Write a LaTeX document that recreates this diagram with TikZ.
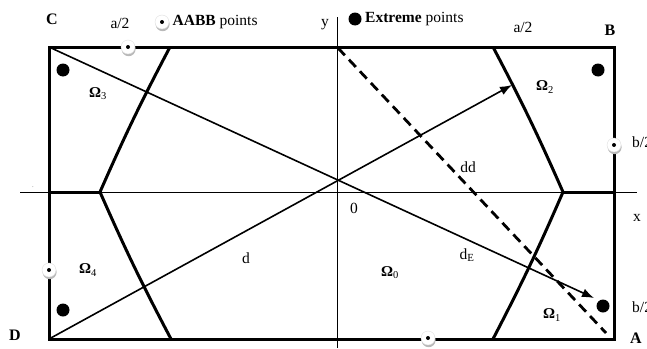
\documentclass[tikz,border=0pt]{standalone}
\usepackage{fontspec}
\setmainfont{Liberation Serif}
\usepackage{tikz}
\usetikzlibrary{positioning,arrows.meta,shadows}

\begin{document}
\begin{tikzpicture}[x=1pt,y=-1pt,
    font=\fontsize{15.5}{18}\selectfont,
    frame/.style={line width=3pt,line join=miter},
    zone/.style={line width=3pt},
    axis/.style={line width=0.9pt},
    ray/.style={line width=1.6pt,-{Latex[length=12pt,width=9pt]}},
    guess/.style={line width=2.8pt,dash pattern=on 10pt off 6pt},
    extreme/.style={circle,fill=black,minimum size=13pt,inner sep=0pt},
    aabb/.style={circle,fill=white,draw=gray!25,minimum size=14pt,inner sep=0pt,
        drop shadow={shadow xshift=0.6pt,shadow yshift=-2.2pt,fill=gray!55,opacity=1},
        path picture={\fill[black] (path picture bounding box.center) circle (2pt);}},
    corner/.style={font=\fontsize{16}{18}\selectfont\bfseries},
    region/.style={font=\fontsize{15}{17}\selectfont}]

\useasboundingbox (0,0) rectangle (647,348);

% corners of the box
\coordinate (C) at (49,47);
\coordinate (B) at (614,47);
\coordinate (A) at (614,339);
\coordinate (D) at (49,339);

% axes
\coordinate (xL) at (20,192);
\coordinate (xR) at (637,192);
\coordinate (yT) at (337,17);
\coordinate (yB) at (337,348);
\draw[axis] (xL) -- (xR);
\draw[axis] (yT) -- (yB);

% box
\draw[frame] (C) rectangle (A);

% region borders
\coordinate (hTL) at (170,47);
\coordinate (hL) at (100,192);
\coordinate (hBL) at (171,339);
\coordinate (hTR) at (493,47);
\coordinate (hR) at (563,192);
\coordinate (hBR) at (493,339);
\coordinate (eL) at (49,192);
\coordinate (eR) at (614,192);
\draw[zone] (hTL) to[bend right=2] (hL) to[bend right=2] (hBL);
\draw[zone] (hTR) to[bend left=2] (hR) to[bend left=2] (hBR);
\draw[zone] (eL) -- (hL);
\draw[zone] (hR) -- (eR);

% rays
\coordinate (tipA) at (594,298);
\coordinate (tipB) at (512,85);
\draw[ray] (C) -- (tipA);
\draw[ray] (D) -- (tipB);
\coordinate (dT) at (338,48);
\coordinate (dA) at (606,333);
\draw[guess] (dT) -- (dA);

% extreme points
\node[extreme] (eC) at (63,70) {};
\node[extreme] (eB) at (598,70) {};
\node[extreme] (eD) at (63,310) {};
\node[extreme] (eA) at (603,306) {};

% AABB points
\node[aabb] (bTop) at (128,47) {};
\node[aabb] (bRight) at (614,145) {};
\node[aabb] (bLeft) at (49,270) {};
\node[aabb] (bBottom) at (428,338) {};

% legend
\node[aabb] (legB) at (162,22) {};
\node[right=0pt of legB] (legBtxt) {\textbf{AABB} points};
\node[extreme] (legE) at (355,19) {};
\node[right=0pt of legE] (legEtxt) {\textbf{Extreme} points};

% labels
\node[corner] (lC) at (52,19) {C};
\node[corner] (lB) at (610,30) {B};
\node[corner] (lA) at (636,338) {A};
\node[corner] (lD) at (15,335) {D};
\node (aL) at (120,23) {a/2};
\node (aR) at (523,27) {a/2};
\node[anchor=west,inner sep=0pt] (bU) at (632,142) {b/2};
\node[anchor=west,inner sep=0pt] (bD) at (632,307) {b/2};
\node (ly) at (325,25) {y};
\node (lx) at (637,218) {x};
\node (l0) at (354,208) {0};
\node[font=\tiny] (dot) at (33,187) {.};
\node (ldd) at (468,167) {dd};
\node (ld) at (246,258) {d};
\node (ldE) at (467,255) {d\textsubscript{E}};
\node[region] (r0) at (390,273) {\textbf{Ω}\textsubscript{0}};
\node[region] (r1) at (552,315) {\textbf{Ω}\textsubscript{1}};
\node[region] (r2) at (545,87) {\textbf{Ω}\textsubscript{2}};
\node[region] (r3) at (98,94) {\textbf{Ω}\textsubscript{3}};
\node[region] (r4) at (88,270) {\textbf{Ω}\textsubscript{4}};

\end{tikzpicture}
\end{document}
